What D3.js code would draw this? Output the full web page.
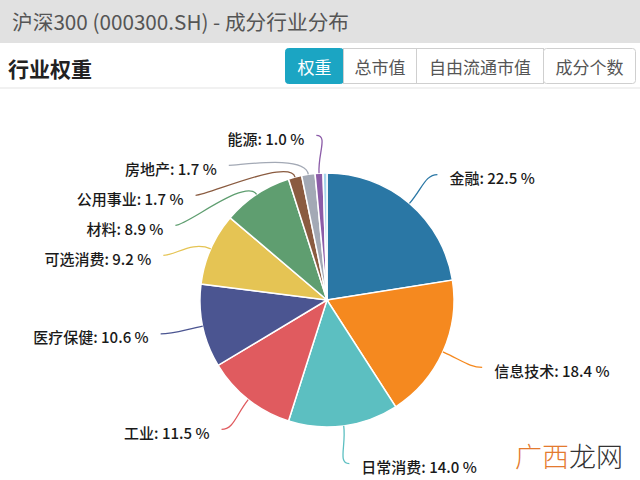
<!DOCTYPE html>
<html><head><meta charset="utf-8">
<script src="https://cdn.jsdelivr.net/npm/d3@7"></script>
<style>
html,body{margin:0;padding:0;background:#fff;}
svg{display:block;font-family:"Noto Sans CJK SC","Noto Sans",sans-serif;}
</style></head>
<body>
<svg id="c" width="640" height="480"></svg>
<script>
const titleText = "沪深300 (000300.SH) - 成分行业分布";
const sectionTitle = "行业权重";
const tabs = ["权重", "总市值", "自由流通市值", "成分个数"];
const categories = ["金融","信息技术","日常消费","工业","医疗保健","可选消费","材料","公用事业","房地产","能源","电信服务"];
const weights = [22.5,18.4,14.0,11.5,10.6,9.2,8.9,1.7,1.7,1.0,0.5];
const colors = ["#2a77a5","#f5891f","#5cbfc1","#e05b5f","#4b5591","#e5c454","#5f9e70","#8a5b40","#a3a9b5","#8c5ca8","#a6d5ec"];

const svg = d3.select("#c");
const W = 640, H = 480;

// header band
svg.append("rect").attr("x",0).attr("y",0).attr("width",W).attr("height",43).attr("fill","#e1e1e1");
svg.append("text").attr("x",12).attr("y",21).attr("dominant-baseline","central")
  .attr("font-size",20.7).attr("fill","#555").text(titleText);

svg.append("text").attr("x",8).attr("y",68).attr("dominant-baseline","central")
  .attr("font-size",21).attr("font-weight","bold").attr("fill","#222").text(sectionTitle);

// tabs
const tabX = d3.scaleOrdinal().domain(tabs).range([285,343,416,543]);
const tabW = d3.scaleOrdinal().domain(tabs).range([58,73,127,92]);
const tg = svg.append("g");
tabs.forEach((t,i)=>{
  const x = tabX(t), w = tabW(t);
  tg.append("rect").attr("x",x+0.5).attr("y",48.5).attr("width",w).attr("height",35)
    .attr("rx", i===0||i===tabs.length-1 ? 3 : 0)
    .attr("fill", i===0 ? "#1ba5c3" : "#fff").attr("stroke", i===0 ? "#1ba5c3" : "#cfcfcf");
  tg.append("text").attr("x",x+w/2+0.5).attr("y",66).attr("text-anchor","middle").attr("dominant-baseline","central")
    .attr("font-size",17).attr("fill", i===0 ? "#fff" : "#555").text(t);
});
svg.append("line").attr("x1",0).attr("x2",W).attr("y1",88).attr("y2",88).attr("stroke","#ececec").attr("stroke-width",1.5);

// pie
const cx = 327, cy = 300, r = 127;
const data = categories.map((c,i)=>({name:c, v:weights[i], color:colors[i]}));
const pie = d3.pie().sort(null).value(d=>d.v);
const arcs = pie(data);
const arc = d3.arc().innerRadius(0).outerRadius(r);
const g = svg.append("g").attr("transform",`translate(${cx},${cy})`);
g.selectAll("path.slice").data(arcs).join("path").attr("class","slice")
  .attr("d",arc).attr("fill",d=>d.data.color).attr("stroke","#fff").attr("stroke-width",1.5);

// labels with simple overlap avoidance
const RX = 170, RY = 165, gap = 30;
const labels = arcs.filter(d=>d.data.v>=1).map(d=>{
  const a = (d.startAngle+d.endAngle)/2;
  return {d, a, side: Math.sin(a) >= 0 ? 1 : -1, y: -RY*Math.cos(a), natY: -RY*Math.cos(a)};
});
[1,-1].forEach(side=>{
  const L = labels.filter(l=>l.side===side).sort((p,q)=>p.y-q.y);
  for (let i=1;i<L.length;i++){ if (L[i].y < L[i-1].y + gap) L[i].y = L[i-1].y + gap; }
});
labels.forEach(l=>{
  if (l.y === l.natY) l.x = RX*Math.sin(l.a);
  else { const t = Math.max(0, 1 - (l.y/RY)*(l.y/RY)); l.x = l.side*RX*Math.sqrt(t); }
});
const lg = svg.append("g").attr("transform",`translate(${cx},${cy})`);
labels.forEach(l=>{
  const sa = Math.sin(l.a), ca = Math.cos(l.a);
  const p0 = [r*sa, -r*ca];
  const c1 = [(r+20)*sa, -(r+20)*ca];
  const p2 = [l.x, l.y];
  const c2 = [l.x - l.side*12, l.y];
  const path = d3.path();
  path.moveTo(p0[0],p0[1]);
  path.bezierCurveTo(c1[0],c1[1],c2[0],c2[1],p2[0],p2[1]);
  lg.append("path").attr("d",path.toString()).attr("fill","none").attr("stroke",l.d.data.color).attr("stroke-width",1.3);
  lg.append("text").attr("x", l.x + l.side*12).attr("y", l.y+3)
    .attr("text-anchor", l.side>0 ? "start" : "end").attr("dominant-baseline","central")
    .attr("font-size",15).attr("font-weight",500).attr("fill","#1a1a1a")
    .text(`${l.d.data.name}: ${d3.format(".1f")(l.d.data.v)} %`);
});

// watermark
const wm = svg.append("text").attr("x",515).attr("y",455).attr("dominant-baseline","central").attr("font-size",27).attr("font-weight",300);
wm.append("tspan").attr("fill","#e47a2e").text("广西");
wm.append("tspan").attr("fill","#333").text("龙网");
</script>
</body></html>
